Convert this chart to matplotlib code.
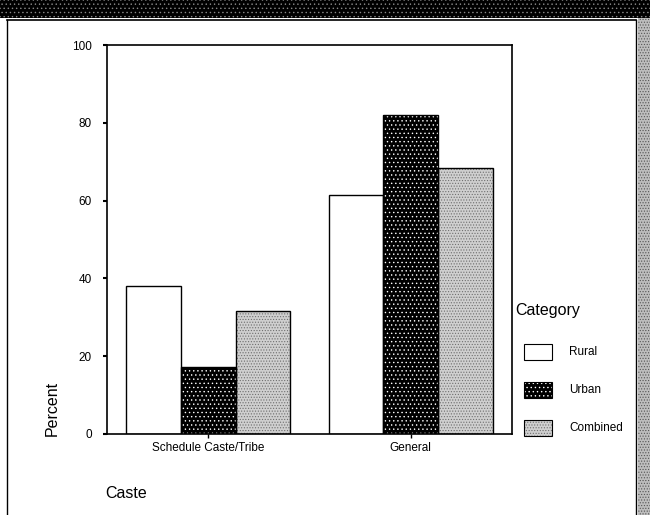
import numpy as np
import matplotlib
matplotlib.use("Agg")
import matplotlib.pyplot as plt
from matplotlib.patches import Rectangle
from matplotlib.lines import Line2D

castes = ["Schedule Caste/Tribe", "General"]
series = ["Rural", "Urban", "Combined"]
rural = [38.0, 61.5]
urban = [17.3, 82.0]
combined = [31.5, 68.3]
yticks = [0, 20, 40, 60, 80, 100]

plt.rcParams['font.family'] = ['Liberation Sans', 'DejaVu Sans']
plt.rcParams['hatch.linewidth'] = 0.5

fig = plt.figure(figsize=(6.5, 5.15), dpi=100)
W, H = 650, 515

urban_hatch = '....'
comb_hatch = '......'
comb_face = '#cfcfcf'

# scan-like top band and right margin
fig.patches.append(Rectangle((0, 1 - 18 / H), 1, 18 / H, transform=fig.transFigure,
                             facecolor='black', edgecolor='#888888', linewidth=0, hatch='....'))
fig.patches.append(Rectangle((638 / W, 0), 12 / W, 1 - 18 / H, transform=fig.transFigure,
                             facecolor='#bdbdbd', edgecolor='#555555', linewidth=0, hatch='......'))
# outer frame lines
fig.add_artist(Line2D([7 / W, 636 / W], [1 - 20 / H, 1 - 20 / H], color='black', lw=1.2))
fig.add_artist(Line2D([7 / W, 7 / W], [0, 1 - 20 / H], color='black', lw=1.0))
fig.add_artist(Line2D([636 / W, 636 / W], [0, 1 - 20 / H], color='black', lw=1.0))

ax = fig.add_axes([107 / W, 1 - 434 / H, 405 / W, 389 / H])

x = np.arange(len(castes))
w = 0.27
ax.bar(x - w, rural, w, facecolor='white', edgecolor='black', lw=1.0, label='Rural')
ax.bar(x, urban, w, facecolor='black', edgecolor='white', lw=0, hatch=urban_hatch, label='Urban')
ax.bar(x + w, combined, w, facecolor=comb_face, edgecolor='#6f6f6f', lw=0, hatch=comb_hatch,
       label='Combined')
# black outlines for textured bars
for vals, off in [(urban, 0), (combined, w)]:
    for xi, v in zip(x, vals):
        ax.add_patch(Rectangle((xi + off - w / 2, 0), w, v, fill=False, edgecolor='black', lw=1.0))

ax.set_xlim(-0.5, 1.5)
ax.set_ylim(0, 100)
ax.set_yticks(yticks)
ax.set_xticks(x)
ax.set_xticklabels(castes, fontsize=8.5)
ax.tick_params(axis='y', labelsize=8.5, length=3, width=1.5, direction='out', pad=8)
ax.tick_params(axis='x', length=3, width=1, direction='out', pad=3)
for s in ax.spines.values():
    s.set_linewidth(1.2)

fig.text(52 / W, 1 - 436 / H, "Percent", rotation=90, fontsize=11.5, ha='center', va='bottom')
fig.text(105 / W, 1 - 493 / H, "Caste", fontsize=11.5, ha='left', va='center')

# legend
fig.text(515 / W, 1 - 310 / H, "Category", fontsize=11.5, ha='left', va='center')
ly = [352, 390, 428]
faces = ['white', 'black', comb_face]
hatches = [None, urban_hatch, comb_hatch]
edges = ['white', 'white', '#6f6f6f']
for name, yy, fc, ht, ec in zip(series, ly, faces, hatches, edges):
    fig.patches.append(Rectangle((524 / W, 1 - (yy + 8) / H), 28 / W, 16 / H, transform=fig.transFigure,
                                 facecolor=fc, edgecolor=ec, lw=0, hatch=ht))
    fig.patches.append(Rectangle((524 / W, 1 - (yy + 8) / H), 28 / W, 16 / H, transform=fig.transFigure,
                                 fill=False, edgecolor='black', lw=0.8))
    fig.text(569 / W, 1 - yy / H, name, fontsize=8.5, ha='left', va='center')

fig.savefig("out.png", dpi=100)
